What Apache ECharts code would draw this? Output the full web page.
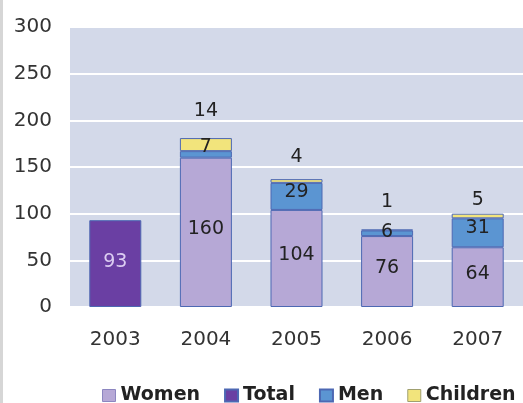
<!DOCTYPE html>
<html><head><meta charset="utf-8">
<script src="https://cdn.jsdelivr.net/npm/echarts@6/dist/echarts.min.js"></script>
<style>html,body{margin:0;padding:0;background:#fff}#c{width:523px;height:403px}</style>
</head><body><div id="c"></div>
<script>
var categories = ['2003','2004','2005','2006','2007'];
var women    = [null, 160, 104, 76, 64];
var total    = [93, null, null, null, null];
var men      = [null, 7, 29, 6, 31];
var children = [null, 14, 4, 1, 5];
var yTicks = [0, 50, 100, 150, 200, 250, 300];

// label placement tweaks (styles only)
var childDist = [0, 18, 13, 18, 4];
var menShift  = [0, -7, -4, -1, -5];

var font = '"DejaVu Sans", Verdana, sans-serif';
var border = '#4d68b3';
function mk(arr, f) { return arr.map(function(v, i){ return v == null ? '-' : f(v, i); }); }

var chart = echarts.init(document.getElementById('c'));
chart.setOption({
  animation: false,
  textStyle: { fontFamily: font },
  graphic: [{ type: 'rect', shape: { x: 0, y: 0, width: 3, height: 403 }, style: { fill: '#d6d6d6' } }],
  grid: { left: 70, right: -10, top: 27, bottom: 96, show: true, backgroundColor: '#d3d9e9', borderWidth: 0 },
  legend: {
    top: 381, left: 97, itemGap: 24, itemWidth: 13, itemHeight: 12, icon: 'rect',
    textStyle: { fontFamily: font, fontWeight: 'bold', fontSize: 19, color: '#222' },
    data: [
      { name: 'Women', itemStyle: { borderColor: '#8c86c0', borderWidth: 1 } },
      { name: 'Total' },
      { name: 'Men' },
      { name: 'Children', itemStyle: { borderColor: '#a0a070', borderWidth: 1 } }
    ]
  },
  xAxis: {
    type: 'category', data: categories,
    axisLine: { show: false }, axisTick: { show: false },
    axisLabel: { fontSize: 20, color: '#333', margin: 23, fontFamily: font }
  },
  yAxis: {
    type: 'value', min: yTicks[0], max: yTicks[yTicks.length-1], interval: 50,
    axisLine: { show: false }, axisTick: { show: false },
    axisLabel: { fontSize: 20, color: '#333', margin: 18, fontFamily: font },
    splitLine: { lineStyle: { color: '#ffffff', width: 2 } }
  },
  series: [
    { name: 'Women', type: 'bar', stack: 's', barWidth: 52,
      itemStyle: { color: '#b6a8d6', borderColor: border, borderWidth: 1 },
      label: { show: true, position: 'inside', fontSize: 19, color: '#222', offset: [0, -3] },
      data: mk(women, function(v){ return v; }) },
    { name: 'Total', type: 'bar', stack: 's', barWidth: 52,
      itemStyle: { color: '#6a3fa3', borderColor: border, borderWidth: 1 },
      label: { show: true, position: 'inside', fontSize: 19, color: '#dccdf2', offset: [0, -2] },
      data: mk(total, function(v){ return v; }) },
    { name: 'Men', type: 'bar', stack: 's', barWidth: 52,
      itemStyle: { color: '#5b95d2', borderColor: border, borderWidth: 1 },
      label: { show: true, position: 'inside', fontSize: 19, color: '#222' },
      data: mk(men, function(v, i){ return { value: v, label: { offset: [0, menShift[i]] } }; }) },
    { name: 'Children', type: 'bar', stack: 's', barWidth: 52,
      itemStyle: { color: '#f2e47c', borderColor: border, borderWidth: 1 },
      label: { show: true, position: 'top', fontSize: 19, color: '#222' },
      data: mk(children, function(v, i){ return { value: v, label: { distance: childDist[i] } }; }) }
  ]
});
</script></body></html>
